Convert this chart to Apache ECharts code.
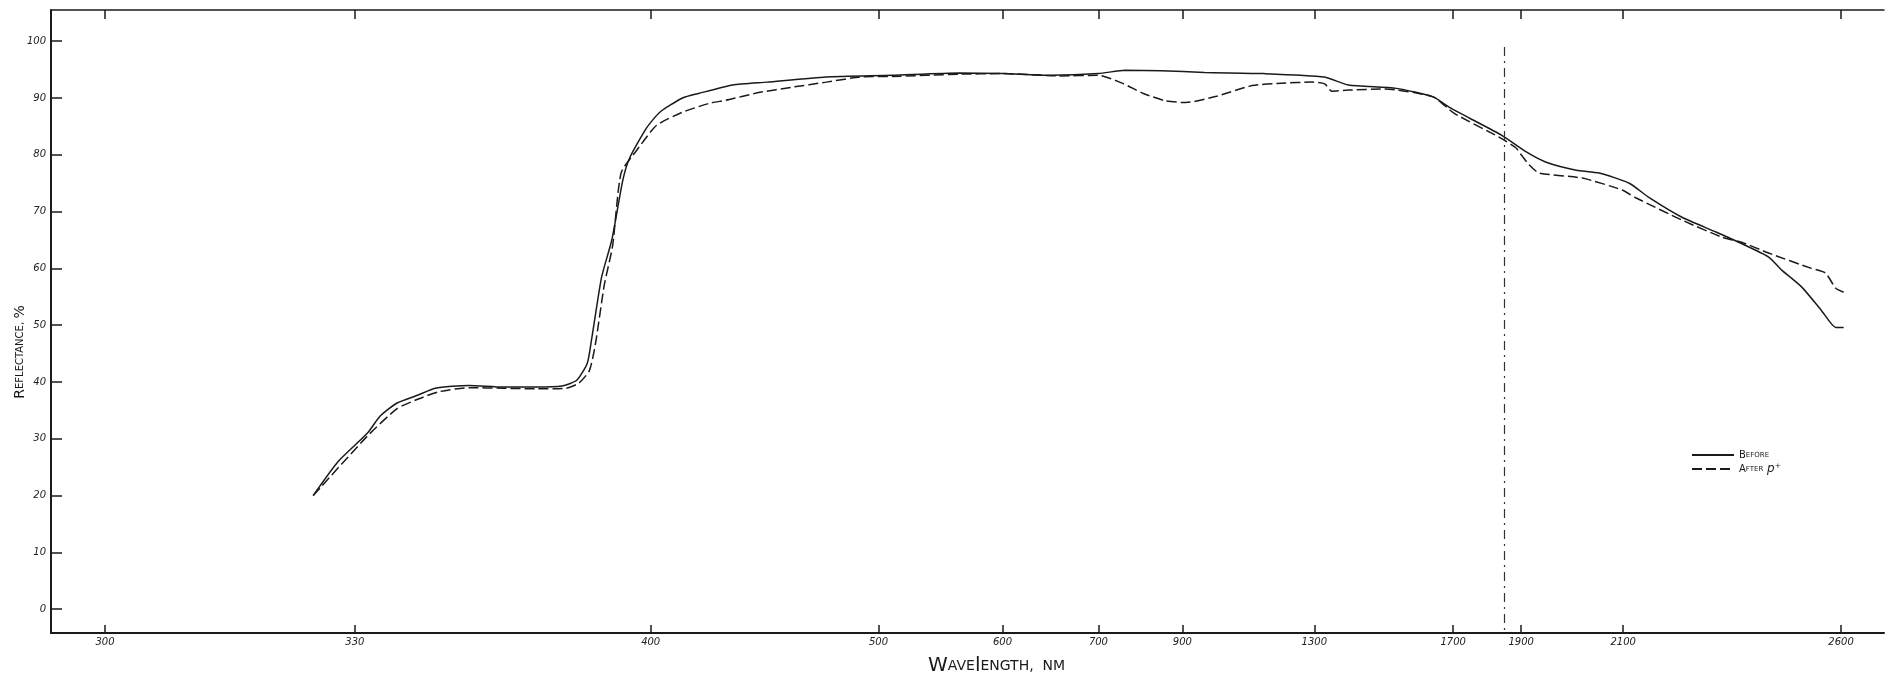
<!DOCTYPE html>
<html>
<head>
<meta charset="utf-8">
<title>Reflectance</title>
<script src="https://cdn.jsdelivr.net/npm/echarts@6.0.0/dist/echarts.min.js"></script>
<style>
  html, body { margin: 0; padding: 0; background: #fff; }
  #main { width: 1889px; height: 685px; }
</style>
</head>
<body>
<div id="main"></div>
<script>
  // wavelength ticks of the hand drawn axis and where they sit on it (axis units, non linear scale)
  const tickNm = [300, 330, 400, 500, 600, 700, 900, 1300, 1700, 1900, 2100, 2600]
  const tickAt = [54, 304, 600, 828, 952, 1048, 1132, 1264, 1403, 1471, 1573, 1791]
  const yTicks = [0, 10, 20, 30, 40, 50, 60, 70, 80, 90, 100]

  const beforeNm = [325, 328, 333, 336, 340, 345, 349, 357, 365, 373, 379, 382.5, 385, 386, 388.4, 390.8, 393.4, 395, 399, 404, 414, 421, 436, 451, 477, 511, 565, 600, 650, 700, 764, 850, 967, 1148, 1329, 1398, 1536, 1642, 1688, 1750, 1841, 1910, 1949, 2008, 2053, 2114, 2159, 2235, 2313, 2365, 2434, 2464, 2510, 2555, 2588, 2606]
  const beforePct = [20, 26, 31, 34, 36.3, 37.7, 38.9, 39.4, 39.1, 39.1, 39.3, 40.3, 43.3, 47.4, 58.5, 65, 75.5, 79.4, 84.7, 87.5, 90, 90.8, 92.3, 92.8, 93.7, 94, 94.4, 94.3, 94, 94.3, 94.9, 94.8, 94.5, 94.3, 93.7, 92.3, 91.7, 90.2, 88.4, 86.4, 83.5, 80.5, 78.7, 77.3, 76.8, 75, 72.5, 69, 66.4, 64.6, 62, 59.7, 56.7, 52.6, 49.6, 49.6]

  const afterNm = [325, 333, 340, 345, 350, 357, 365, 373, 380, 383, 385.5, 387, 389, 391, 393, 396.7, 402.6, 414, 426, 433, 448, 462, 477, 492, 511, 565, 600, 659, 700, 760, 807, 860, 910, 1003, 1112, 1200, 1294, 1330, 1350, 1398, 1501, 1642, 1703, 1835, 1885, 1900, 1916, 1935, 2020, 2098, 2130, 2235, 2327, 2372, 2434, 2532, 2564, 2588, 2606]
  const afterPct = [20, 30.5, 35.3, 37, 38.3, 39, 38.9, 38.8, 38.9, 39.8, 42, 47, 57, 64, 76.8, 80.8, 85.2, 87.5, 89.1, 89.6, 91, 91.9, 92.8, 93.7, 93.8, 94.2, 94.3, 93.9, 94, 92.5, 90.8, 89.5, 89.2, 90.3, 92.2, 92.6, 92.8, 92.5, 91.2, 91.4, 91.6, 90.2, 87.3, 83.1, 81.2, 80, 78.2, 76.8, 75.9, 73.8, 72.4, 68.5, 65.5, 64.6, 62.7, 60, 59.2, 56.5, 55.8]

  const markerNm = 1850

  function toAxis(nm) {
    let i = 0
    while (i < tickNm.length - 2 && nm > tickNm[i + 1]) i++
    const t = (nm - tickNm[i]) / (tickNm[i + 1] - tickNm[i])
    return tickAt[i] + t * (tickAt[i + 1] - tickAt[i])
  }

  function pairs(xs, ys) {
    return xs.map((x, i) => [toAxis(x), ys[i]])
  }

  const ink = '#1a1a1a'
  const labelFont = { fontFamily: 'DejaVu Sans', fontStyle: 'italic', fontSize: 10, color: '#222' }

  const myChart = echarts.init(document.getElementById('main'))
  const option = {
    backgroundColor: '#fff',
    animation: false,
    grid: { left: 51, right: 5, top: 10, bottom: 52 },
    legend: {
      left: 1686,
      top: 445,
      orient: 'vertical',
      itemWidth: 42,
      itemHeight: 6,
      itemGap: 3,
      itemStyle: { opacity: 0 },
      textStyle: {
        fontFamily: 'DejaVu Sans',
        color: ink,
        rich: {
          big: { fontSize: 10, fontFamily: 'DejaVu Sans', color: ink },
          sm: { fontSize: 7, fontFamily: 'DejaVu Sans', color: ink },
          p: { fontSize: 12, fontFamily: 'DejaVu Sans', fontStyle: 'italic', color: ink }
        }
      },
      formatter: function (name) {
        if (name === 'Before') return '{big|B}{sm|EFORE}'
        return '{big|A}{sm|FTER} {p|p⁺}'
      },
      data: ['Before', 'After']
    },
    xAxis: [{
      type: 'value',
      min: 0,
      max: 1834,
      splitLine: { show: false },
      axisLine: { onZero: false, lineStyle: { color: ink, width: 2 } },
      axisTick: { inside: true, length: 8, customValues: tickAt, lineStyle: { color: ink, width: 1.5 } },
      axisLabel: Object.assign({
        customValues: tickAt,
        margin: 4,
        formatter: function (v) {
          const k = tickAt.indexOf(v)
          return k >= 0 ? String(tickNm[k]) : ''
        }
      }, labelFont)
    }, {
      type: 'value',
      position: 'top',
      min: 0,
      max: 1834,
      splitLine: { show: false },
      axisLine: { onZero: false, lineStyle: { color: ink, width: 1.5 } },
      axisTick: { inside: true, length: 9, customValues: tickAt, lineStyle: { color: ink, width: 1.5 } },
      axisLabel: { show: false }
    }],
    yAxis: {
      type: 'value',
      min: -4.2,
      max: 105.5,
      splitLine: { show: false },
      axisLine: { onZero: false, lineStyle: { color: ink, width: 2 } },
      axisTick: { inside: true, length: 11, customValues: yTicks, lineStyle: { color: ink, width: 1.5 } },
      axisLabel: Object.assign({ customValues: yTicks, margin: 5 }, labelFont)
    },
    graphic: [{
      type: 'text',
      left: 928,
      top: 656,
      style: {
        text: '{b|W}{s|AVE}{b|l}{s|ENGTH,  NM}',
        fill: ink,
        rich: {
          b: { fontSize: 20, fontFamily: 'DejaVu Sans', fill: ink },
          s: { fontSize: 14, fontFamily: 'DejaVu Sans', fill: ink }
        }
      }
    }, {
      type: 'text',
      x: 20,
      y: 352,
      rotation: Math.PI / 2,
      style: {
        text: '{b|R}{s|EFLECTANCE,} {b|%}',
        align: 'center',
        verticalAlign: 'middle',
        fill: ink,
        rich: {
          b: { fontSize: 14, fontFamily: 'DejaVu Sans', fill: ink },
          s: { fontSize: 10, fontFamily: 'DejaVu Sans', fill: ink }
        }
      }
    }],
    series: [{
      name: 'Before',
      type: 'line',
      data: pairs(beforeNm, beforePct),
      symbol: 'none',
      smooth: 0.2,
      lineStyle: { color: ink, width: 1.5 },
      itemStyle: { color: ink },
      markLine: {
        silent: true,
        symbol: 'none',
        label: { show: false },
        lineStyle: { color: '#333', width: 1.2, type: [9, 5, 2, 5] },
        data: [[{ coord: [toAxis(markerNm), 99] }, { coord: [toAxis(markerNm), -4.2] }]]
      }
    }, {
      name: 'After',
      type: 'line',
      data: pairs(afterNm, afterPct),
      symbol: 'none',
      smooth: 0.2,
      lineStyle: { color: ink, width: 1.5, type: [10, 4] },
      itemStyle: { color: ink }
    }]
  }
  myChart.setOption(option, true)
</script>
</body>
</html>
